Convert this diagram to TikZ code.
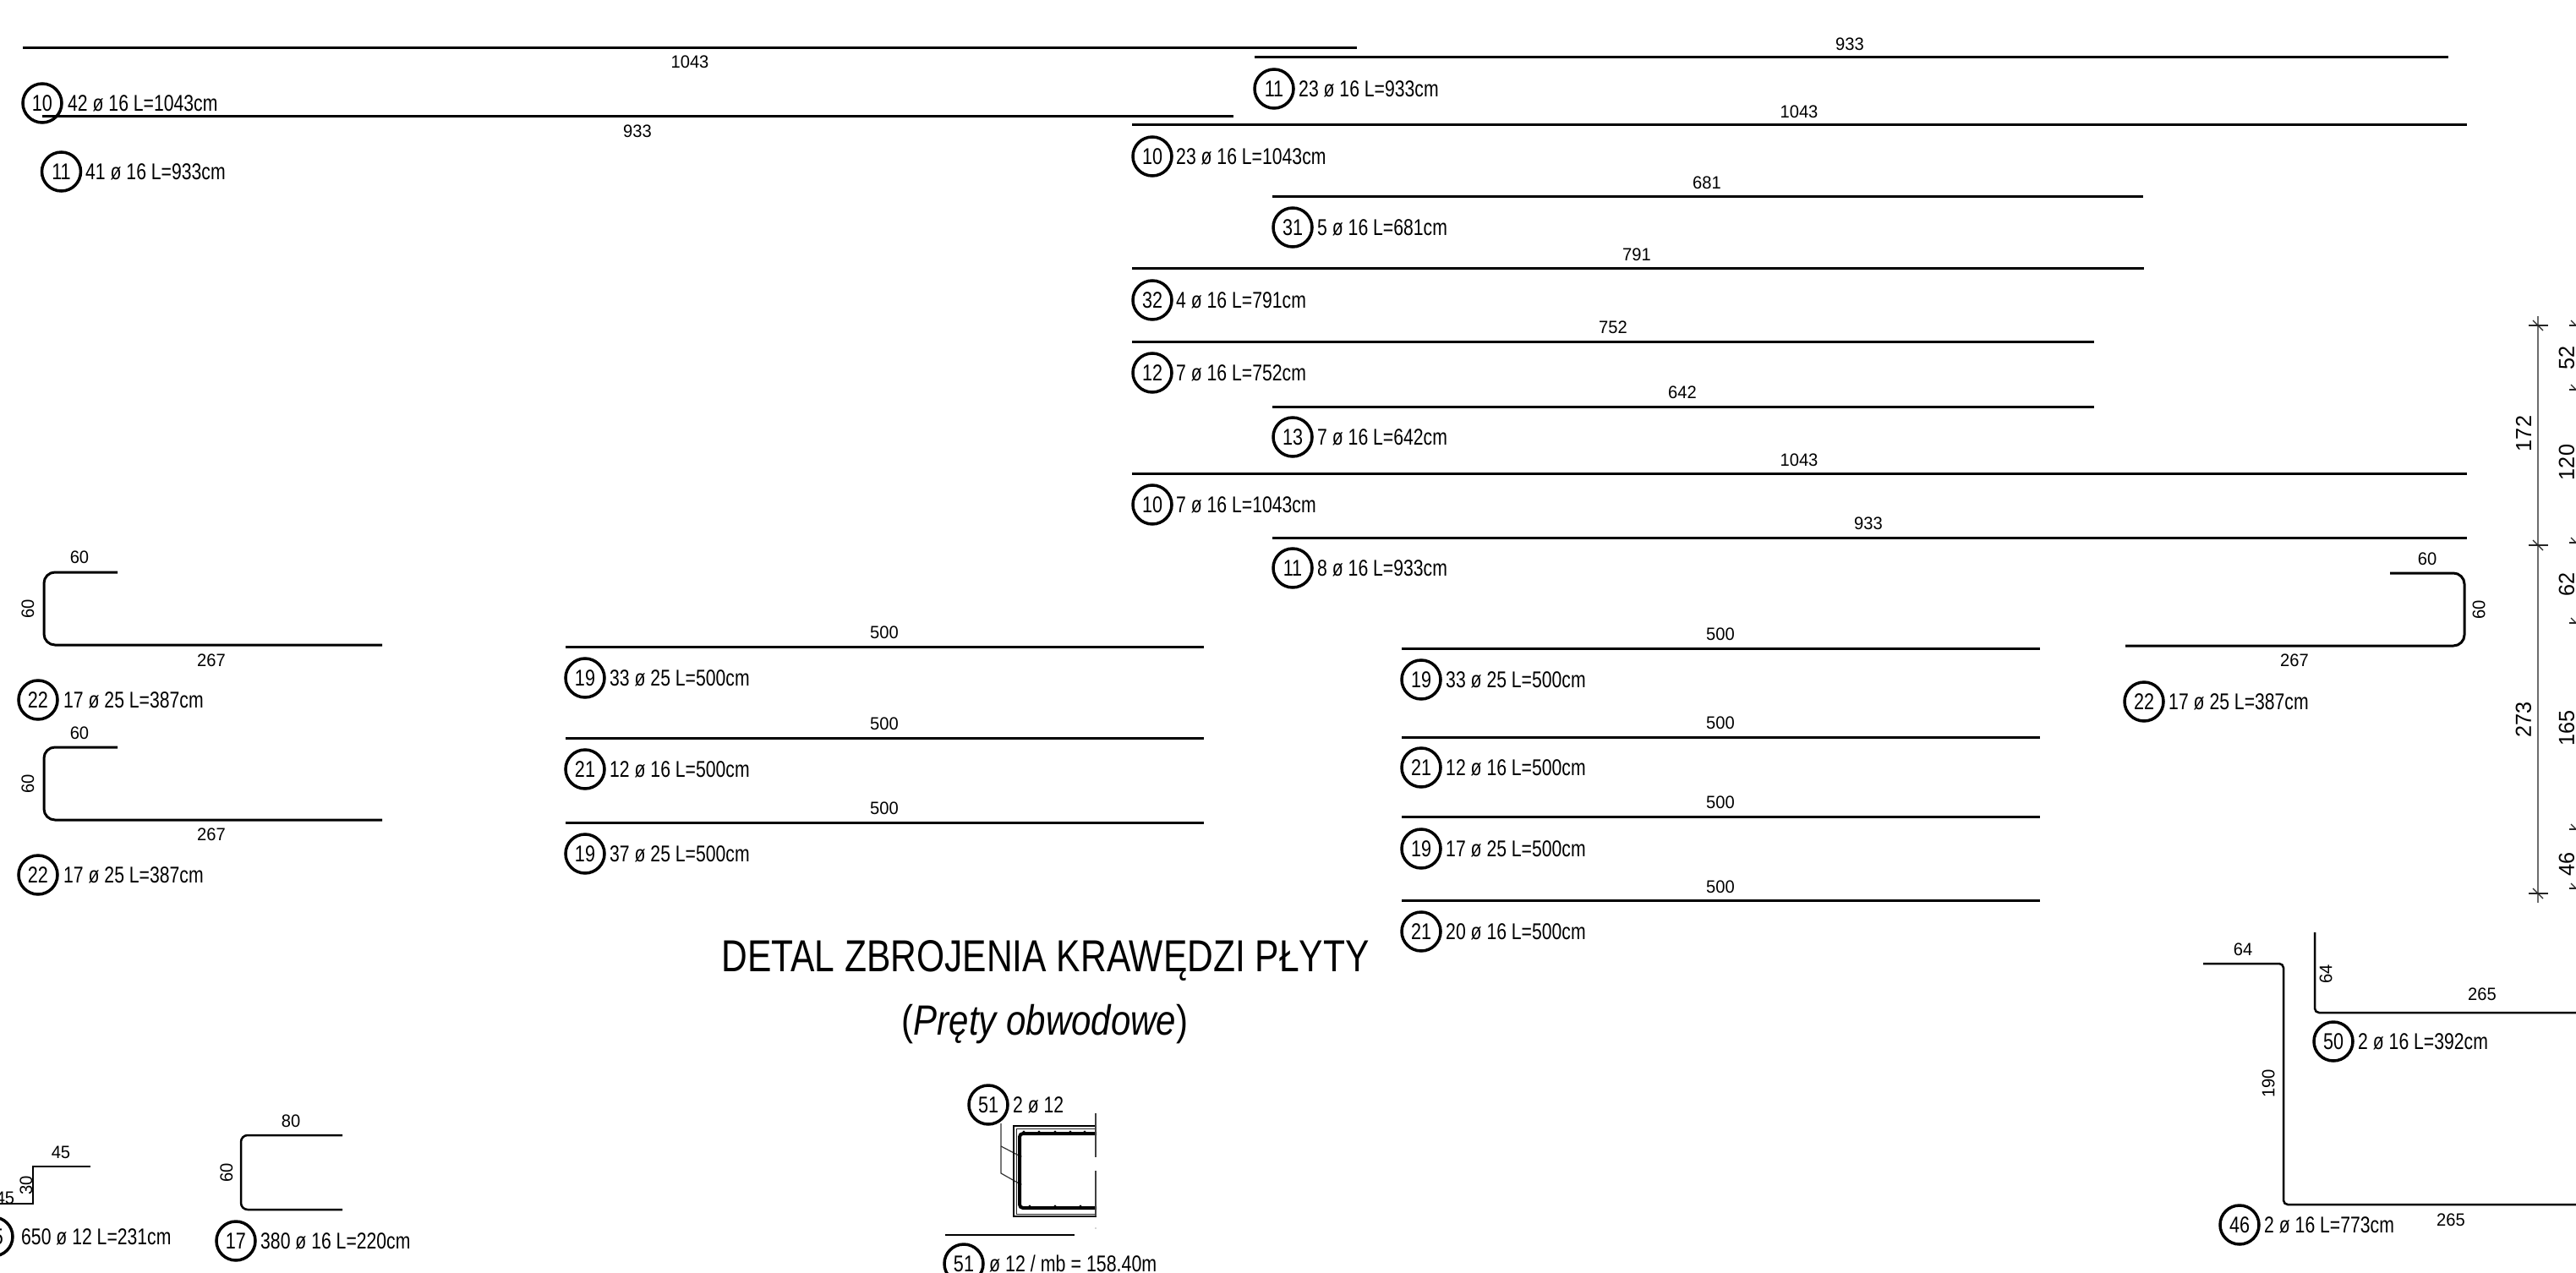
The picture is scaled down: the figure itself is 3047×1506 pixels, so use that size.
\documentclass[tikz,border=0pt]{standalone}
\usepackage{fontspec}
\usepackage{graphicx}
\setmainfont{Liberation Sans}
\tikzset{
  rebar/.style={line width=3pt,black},
  thinbar/.style={line width=2pt,black},
  numcircle/.style={circle,draw=black,line width=3.5pt,minimum size=46pt,inner sep=0pt},
  txt/.style={inner sep=0pt,anchor=base west,font=\fontsize{27}{29}\selectfont},
  dimlab/.style={inner sep=0pt,anchor=center,font=\fontsize{21}{23}\selectfont},
  dimbig/.style={inner sep=0pt,anchor=center,font=\fontsize{26}{28}\selectfont},
  chain/.style={line width=2.5pt,color=gray!85!black},
  tick/.style={line width=1.2pt,color=black!85},
  leader/.style={line width=1.2pt,color=black!80},
}
% \barlabel{name}{cx}{cy}{number}{text left}{text}
\newcommand\barlabel[6]{%
  \node[numcircle] (#1) at (#2,#3) {\scalebox{.8}[1]{\fontsize{27}{29}\selectfont #4}};
  \node[txt] (#1t) at (#5,#3+9.5) {\scalebox{.785}[1]{#6}};
}
\newcommand\dimtext[4]{\node[dimlab] (#1) at (#2,#3) {\scalebox{.96}[1]{#4}};}
\newcommand\dimrot[4]{\node[dimlab,rotate=90] (#1) at (#2,#3) {\scalebox{.96}[1]{#4}};}
\newcommand\bigrot[4]{\node[dimbig,rotate=90] (#1) at (#2,#3) {\scalebox{.97}[1]{#4}};}
\newcommand\tickmark[1]{%
  \draw[tick] (2991,#1) -- (3014,#1);
  \draw[tick] (2996,#1-6) -- (3008,#1+6);
}
\newcommand\edgetick[1]{%
  \draw[tick] (3039,#1) -- (3047,#1);
  \draw[tick] (3041,#1-6) -- (3047,#1);
}
\begin{document}
\begin{tikzpicture}[x=1pt,y=-1pt]
\useasboundingbox (0,0) rectangle (3047,1506);
\fill[white] (0,0) rectangle (3047,1506);
\clip (0,0) rectangle (3047,1506);

% top-left bars
\draw[rebar] (27,57) -- (1605,57);
\dimtext{d1}{816}{73}{1043}
\barlabel{a1}{50}{122}{10}{80}{42 ø 16 L=1043cm}
\draw[rebar] (50,138) -- (1459,138);
\dimtext{d2}{754}{155}{933}
\barlabel{a2}{72.5}{203}{11}{101}{41 ø 16 L=933cm}

% top-right bars
\draw[rebar] (1484,68) -- (2896,68);
\dimtext{d3}{2188}{52}{933}
\barlabel{b1}{1507}{105}{11}{1536}{23 ø 16 L=933cm}
\draw[rebar] (1339,148) -- (2918,148);
\dimtext{d4}{2128}{132}{1043}
\barlabel{b2}{1363}{185}{10}{1391}{23 ø 16 L=1043cm}
\draw[rebar] (1505,233) -- (2535,233);
\dimtext{d5}{2019}{216}{681}
\barlabel{b3}{1529}{269}{31}{1558}{5 ø 16 L=681cm}
\draw[rebar] (1339,318) -- (2536,318);
\dimtext{d6}{1936}{301}{791}
\barlabel{b4}{1363}{355}{32}{1391}{4 ø 16 L=791cm}
\draw[rebar] (1339,404) -- (2477,404);
\dimtext{d7}{1908}{387}{752}
\barlabel{b5}{1363}{441}{12}{1391}{7 ø 16 L=752cm}
\draw[rebar] (1505,481) -- (2477,481);
\dimtext{d8}{1990}{464}{642}
\barlabel{b6}{1529}{517}{13}{1558}{7 ø 16 L=642cm}
\draw[rebar] (1339,560) -- (2918,560);
\dimtext{d9}{2128}{544}{1043}
\barlabel{b7}{1363}{597}{10}{1391}{7 ø 16 L=1043cm}
\draw[rebar] (1505,636) -- (2918,636);
\dimtext{d10}{2210}{619}{933}
\barlabel{b8}{1529}{672}{11}{1558}{8 ø 16 L=933cm}

% left stirrups
\draw[rebar,rounded corners=13pt] (139,677) -- (52,677) -- (52,763) -- (452,763);
\dimtext{e1}{94}{659}{60}
\dimrot{e2}{33}{720}{60}
\dimtext{e3}{250}{781}{267}
\barlabel{c1}{45}{828}{22}{75}{17 ø 25 L=387cm}
\draw[rebar,rounded corners=13pt] (139,884) -- (52,884) -- (52,970) -- (452,970);
\dimtext{e4}{94}{867}{60}
\dimrot{e5}{33}{927}{60}
\dimtext{e6}{250}{987}{267}
\barlabel{c2}{45}{1035}{22}{75}{17 ø 25 L=387cm}

% middle 500 bars
\draw[rebar] (669,765) -- (1424,765);
\dimtext{f1}{1046}{748}{500}
\barlabel{g1}{692}{802}{19}{721}{33 ø 25 L=500cm}
\draw[rebar] (669,873) -- (1424,873);
\dimtext{f2}{1046}{856}{500}
\barlabel{g2}{692}{910}{21}{721}{12 ø 16 L=500cm}
\draw[rebar] (669,973) -- (1424,973);
\dimtext{f3}{1046}{956}{500}
\barlabel{g3}{692}{1010}{19}{721}{37 ø 25 L=500cm}

\draw[rebar] (1658,767) -- (2413,767);
\dimtext{f4}{2035}{750}{500}
\barlabel{h1}{1681}{804}{19}{1710}{33 ø 25 L=500cm}
\draw[rebar] (1658,872) -- (2413,872);
\dimtext{f5}{2035}{855}{500}
\barlabel{h2}{1681}{908}{21}{1710}{12 ø 16 L=500cm}
\draw[rebar] (1658,966) -- (2413,966);
\dimtext{f6}{2035}{949}{500}
\barlabel{h3}{1681}{1004}{19}{1710}{17 ø 25 L=500cm}
\draw[rebar] (1658,1065) -- (2413,1065);
\dimtext{f7}{2035}{1049}{500}
\barlabel{h4}{1681}{1102}{21}{1710}{20 ø 16 L=500cm}

% right stirrup
\draw[rebar,rounded corners=13pt] (2827,678) -- (2915,678) -- (2915,764) -- (2514,764);
\dimtext{i1}{2871}{661}{60}
\dimrot{i2}{2932}{721}{60}
\dimtext{i3}{2714}{781}{267}
\barlabel{i4}{2536}{830}{22}{2565}{17 ø 25 L=387cm}

% dimension chain
\draw[chain] (3002,374) -- (3002,1068);
\tickmark{385}
\tickmark{645}
\tickmark{1057}
\bigrot{j1}{2985}{513}{172}
\bigrot{j2}{2985}{851}{273}
\edgetick{385}
\edgetick{461}
\edgetick{642}
\edgetick{737}
\edgetick{981}
\edgetick{1051}
\bigrot{j3}{3036}{423}{52}
\bigrot{j4}{3036}{547}{120}
\bigrot{j5}{3036}{691}{62}
\bigrot{j6}{3036}{861}{165}
\bigrot{j7}{3036}{1022}{46}

% title
\node[inner sep=0pt,anchor=base,font=\fontsize{53}{56}\selectfont] (title) at (1236.5,1149) {\scalebox{.803}[1]{DETAL ZBROJENIA KRAWĘDZI PŁYTY}};
\node[inner sep=0pt,anchor=base,font=\fontsize{50}{54}\selectfont] (subtitle) at (1236,1224) {\scalebox{.84}[1]{(\textit{Pręty obwodowe})}};

% bottom-left shapes
\draw[thinbar] (0,1424) -- (39,1424) -- (39,1380) -- (107,1380);
\dimtext{k1}{72}{1363}{45}
\dimrot{k2}{31}{1402}{30}
\dimtext{k3}{6}{1417}{45}
\barlabel{k4}{-8}{1463}{15}{25}{650 ø 12 L=231cm}
\draw[rebar,line width=2.5pt,rounded corners=8pt] (405,1343) -- (285,1343) -- (285,1431) -- (405,1431);
\dimtext{k5}{344}{1326}{80}
\dimrot{k6}{268}{1387}{60}
\barlabel{k7}{279}{1468}{17}{308}{380 ø 16 L=220cm}

% section detail
\barlabel{s1}{1169}{1307}{51}{1198}{2 ø 12}
\coordinate (s1a) at (1184,1329);
\coordinate (s1b) at (1184,1356);
\coordinate (s1c) at (1184,1388);
\coordinate (s1d) at (1207,1368);
\coordinate (s1e) at (1207,1401);
\draw[leader] (s1a) -- (s1c) -- (s1e);
\draw[leader] (s1b) -- (s1d);
\draw[line width=1.5pt,black] (1297,1332) -- (1199,1332) -- (1199,1439) -- (1297,1439);
\draw[line width=1pt,black!85] (1297,1335) -- (1202,1335) -- (1202,1436) -- (1297,1436);
\draw[line width=4pt,black,rounded corners=4pt] (1297,1341) -- (1206,1341) -- (1206,1429) -- (1297,1429);
\foreach \xx in {1211,1229,1248,1266,1283} \fill[black] (\xx,1339) circle (1.6pt);
\foreach \xx in {1218,1248,1278} \fill[black] (\xx,1427) circle (1.6pt);
\fill[black] (s1d) circle (1.5pt);
\fill[black] (s1e) circle (1.5pt);
\draw[line width=1.2pt,black!75] (1296,1317) -- (1296,1369);
\draw[line width=1.2pt,black!75] (1296,1385) -- (1296,1439);
\fill[black!70] (1296,1453) circle (.7pt);
\draw[line width=2.5pt,black] (1118,1461) -- (1271,1461);
\barlabel{s2}{1140}{1495}{51}{1170}{\scalebox{1.01}[1]{ø 12 / mb = 158.40m}}

% bottom-right shapes
\draw[rebar,line width=2.5pt,rounded corners=5pt] (2606,1140) -- (2701,1140) -- (2701,1425) -- (3060,1425);
\dimtext{n1}{2653}{1123}{64}
\dimrot{n2}{2683}{1282}{190}
\dimtext{n3}{2899}{1443}{265}
\barlabel{n4}{2649}{1449}{46}{2678}{2 ø 16 L=773cm}
\draw[rebar,line width=2.5pt,rounded corners=5pt] (2738,1103) -- (2738,1198) -- (3060,1198);
\dimrot{n5}{2751}{1152}{64}
\dimtext{n6}{2936}{1176}{265}
\barlabel{n7}{2760}{1232}{50}{2789}{2 ø 16 L=392cm}
\end{tikzpicture}
\end{document}
